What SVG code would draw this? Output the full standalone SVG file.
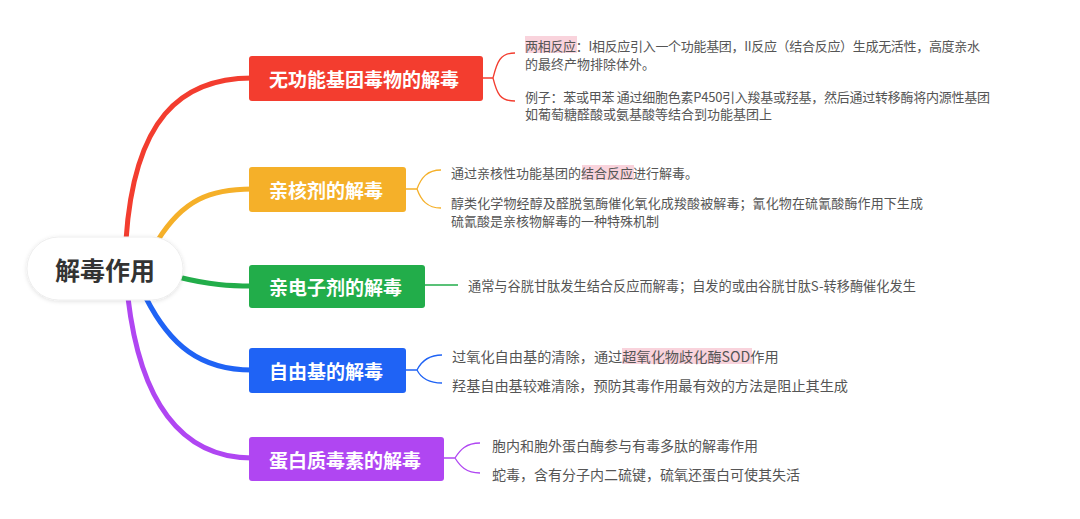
<svg xmlns="http://www.w3.org/2000/svg" width="1080" height="519" viewBox="0 0 1080 519">
<defs>
<style>
.bt{font-family:"Noto Sans CJK SC","Noto Sans",sans-serif;font-size:19px;font-weight:bold;fill:#fff;dominant-baseline:central}
.tx{font-family:"Noto Sans CJK SC","Noto Sans",sans-serif;fill:#555;dominant-baseline:central}
.hl{fill:#f9d3dc}
.main{fill:none;stroke-width:5;stroke-linecap:round}
.sub{fill:none;stroke-width:1.3}
</style>
<filter id="sh" x="-20%" y="-30%" width="140%" height="160%">
<feDropShadow dx="0" dy="1" stdDeviation="2" flood-color="#000" flood-opacity="0.12"/>
</filter>
</defs>
<rect width="1080" height="519" fill="#fff"/>
<g id="connectors">
<path class="main" stroke="#f33d2f" d="M126,240 C134,120 180,78 252,78"/>
<path class="main" stroke="#f5b029" d="M158,240 C183,200 210,189 252,189"/>
<path class="main" stroke="#22ad4a" d="M178,277 C210,285 230,286 252,286"/>
<path class="main" stroke="#1f63f5" d="M146,298 C170,345 200,370 252,370"/>
<path class="main" stroke="#b046f2" d="M128,298 C140,400 180,458 252,458"/>
<path class="sub" stroke="#f33d2f" d="M483,78 H493 M515,53 C500,53 497,62 493,78 C497,94 500,101 515,101"/>
<path class="sub" stroke="#f5b029" d="M406,189 H417 M441,170 C427,170 421,178 417,189 C421,200 427,208 441,208"/>
<path class="sub" stroke="#22ad4a" d="M425,285 H458"/>
<path class="sub" stroke="#1f63f5" d="M406,370 H417 M442,355 C428,355 421,362 417,370 C421,378 428,383 442,383"/>
<path class="sub" stroke="#b046f2" d="M444,458 H455 M480,443 C466,443 460,450 455,458 C460,466 466,473 480,473"/>
</g>
<g id="root">
<rect x="27" y="237" width="156" height="63" rx="31.5" fill="#fff" stroke="#eee" filter="url(#sh)"/>
<text x="105" y="269" text-anchor="middle" style="font-family:'Noto Sans CJK SC','Noto Sans',sans-serif;font-size:25px;font-weight:bold;fill:#333;dominant-baseline:central">解毒作用</text>
</g>
<g id="n1">
<rect x="249" y="56" width="234" height="45" rx="3" fill="#f33d2f"/>
<text class="bt" x="269" y="78.5">无功能基团毒物的解毒</text>
</g>
<g id="n1-t">
<rect class="hl" x="525" y="36" width="52" height="17"/>
<text class="tx" style="font-size:13px" x="525" y="45" textLength="455" lengthAdjust="spacing">两相反应：I相反应引入一个功能基团，II反应（结合反应）生成无活性，高度亲水</text>
<text class="tx" style="font-size:13px" x="525" y="63">的最终产物排除体外。</text>
<text class="tx" style="font-size:13px" x="525" y="96" textLength="465" lengthAdjust="spacing">例子：苯或甲苯 通过细胞色素P450引入羧基或羟基，然后通过转移酶将内源性基团</text>
<text class="tx" style="font-size:13px" x="525" y="113">如葡萄糖醛酸或氨基酸等结合到功能基团上</text>
</g>
<g id="n2">
<rect x="249" y="167" width="157" height="45" rx="3" fill="#f5b029"/>
<text class="bt" x="269" y="189.5">亲核剂的解毒</text>
</g>
<g id="n2-t">
<rect class="hl" x="582" y="165" width="52" height="15"/>
<text class="tx" style="font-size:13px" x="451" y="172">通过亲核性功能基团的结合反应进行解毒。</text>
<text class="tx" style="font-size:13px" x="451" y="202" textLength="472" lengthAdjust="spacing">醇类化学物经醇及醛脱氢酶催化氧化成羧酸被解毒；氰化物在硫氰酸酶作用下生成</text>
<text class="tx" style="font-size:13px" x="451" y="220">硫氰酸是亲核物解毒的一种特殊机制</text>
</g>
<g id="n3">
<rect x="249" y="265" width="176" height="43" rx="3" fill="#22ad4a"/>
<text class="bt" x="269" y="286.5">亲电子剂的解毒</text>
</g>
<g id="n3-t">
<text class="tx" style="font-size:13.2px" x="468" y="285">通常与谷胱甘肽发生结合反应而解毒；自发的或由谷胱甘肽S-转移酶催化发生</text>
</g>
<g id="n4">
<rect x="249" y="348" width="157" height="45" rx="3" fill="#1f63f5"/>
<text class="bt" x="269" y="370.5">自由基的解毒</text>
</g>
<g id="n4-t">
<rect class="hl" x="622" y="348" width="130" height="16"/>
<text class="tx" style="font-size:14.2px" x="452" y="356">过氧化自由基的清除，通过超氧化物歧化酶SOD作用</text>
<text class="tx" style="font-size:14.2px" x="452" y="385" textLength="396" lengthAdjust="spacing">羟基自由基较难清除，预防其毒作用最有效的方法是阻止其生成</text>
</g>
<g id="n5">
<rect x="249" y="437" width="195" height="44" rx="3" fill="#b046f2"/>
<text class="bt" x="269" y="459">蛋白质毒素的解毒</text>
</g>
<g id="n5-t">
<text class="tx" style="font-size:14px" x="492" y="445">胞内和胞外蛋白酶参与有毒多肽的解毒作用</text>
<text class="tx" style="font-size:14px" x="492" y="474">蛇毒，含有分子内二硫键，硫氧还蛋白可使其失活</text>
</g>
</svg>
